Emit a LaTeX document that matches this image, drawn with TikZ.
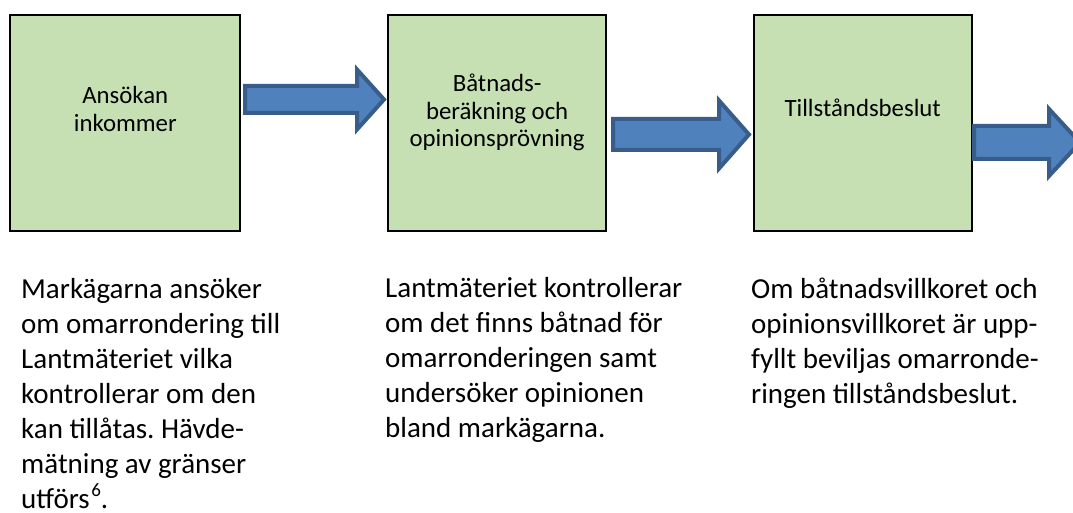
\documentclass[tikz,border=0pt]{standalone}
\usepackage{fontspec}
\setmainfont{Carlito}
\frenchspacing
\definecolor{boxgreen}{HTML}{C6E0B4}
\definecolor{arrowfill}{HTML}{4F81BD}
\definecolor{arrowline}{HTML}{385D8A}
\newcommand\boxfont{\fontsize{24.8}{27.5}\selectfont}
\newcommand\notefont{\fontsize{29}{35}\selectfont}
\newcommand\linesc[1]{\begin{tabular}[t]{@{}c@{}}#1\end{tabular}}
\newcommand\linesl[1]{\begin{tabular}[t]{@{}l@{}}#1\end{tabular}}
\newcommand\supnum[1]{\kern1.5pt\raisebox{0.42em}{\fontsize{19}{19}\selectfont #1}}
% #1 start x, #2 tip x, #3 centre y, #4 shaft half, #5 head half, #6 head length
\newcommand\blockarrow[6]{%
  \draw[barrow] (#1,#3-#4) -- (#2-#6,#3-#4) -- (#2-#6,#3-#5) -- (#2,#3)
    -- (#2-#6,#3+#5) -- (#2-#6,#3+#4) -- (#1,#3+#4) -- cycle;}
\tikzset{
  stagebox/.style={draw=black, line width=2pt, fill=boxgreen, inner sep=0pt,
    minimum height=216pt},
  boxtext/.style={anchor=base, inner sep=0pt, font=\boxfont},
  notetext/.style={anchor=base west, inner sep=0pt, font=\notefont},
  barrow/.style={fill=arrowfill, draw=arrowline, line width=4pt, line join=miter},
}
\begin{document}
\begin{tikzpicture}[x=1pt, y=-1pt]
\useasboundingbox (0,0) rectangle (1073,513);
\renewcommand\arraystretch{1}
% boxes
\node[stagebox, minimum width=230pt] (b1) at (125.3,123) {};
\node[stagebox, minimum width=217.7pt] (b2) at (497.15,123) {};
\node[stagebox, minimum width=218pt] (b3) at (862.7,123) {};
% box texts
\node[boxtext] (t1) at (125.3,104) {\linesc{Ansökan\\inkommer}};
\node[boxtext] (t2) at (497.15,92) {\linesc{Båtnads-\\beräkning och\\opinionsprövning}};
\node[boxtext] (t3) at (862.7,117) {Tillståndsbeslut};
% arrows
\blockarrow{245}{384}{99.5}{13.5}{30}{27}
\blockarrow{613}{749}{134.5}{15.5}{34}{30}
\blockarrow{974}{1080}{142.5}{16.5}{33.5}{31}
% notes
\node[notetext] (n1) at (21,298) {\linesl{Markägarna ansöker\\om omarrondering till\\Lantmäteriet vilka\\kontrollerar om den\\kan tillåtas. Hävde-\\mätning av gränser\\utförs\supnum{6}.}};
\node[notetext] (n2) at (385,297) {\linesl{Lantmäteriet kontrollerar\\om det finns båtnad för\\omarronderingen samt\\undersöker opinionen\\bland markägarna.}};
\node[notetext] (n3) at (751,298) {\linesl{Om båtnadsvillkoret och\\opinionsvillkoret är upp-\\fyllt beviljas omarronde-\\ringen tillståndsbeslut.}};
\end{tikzpicture}
\end{document}
